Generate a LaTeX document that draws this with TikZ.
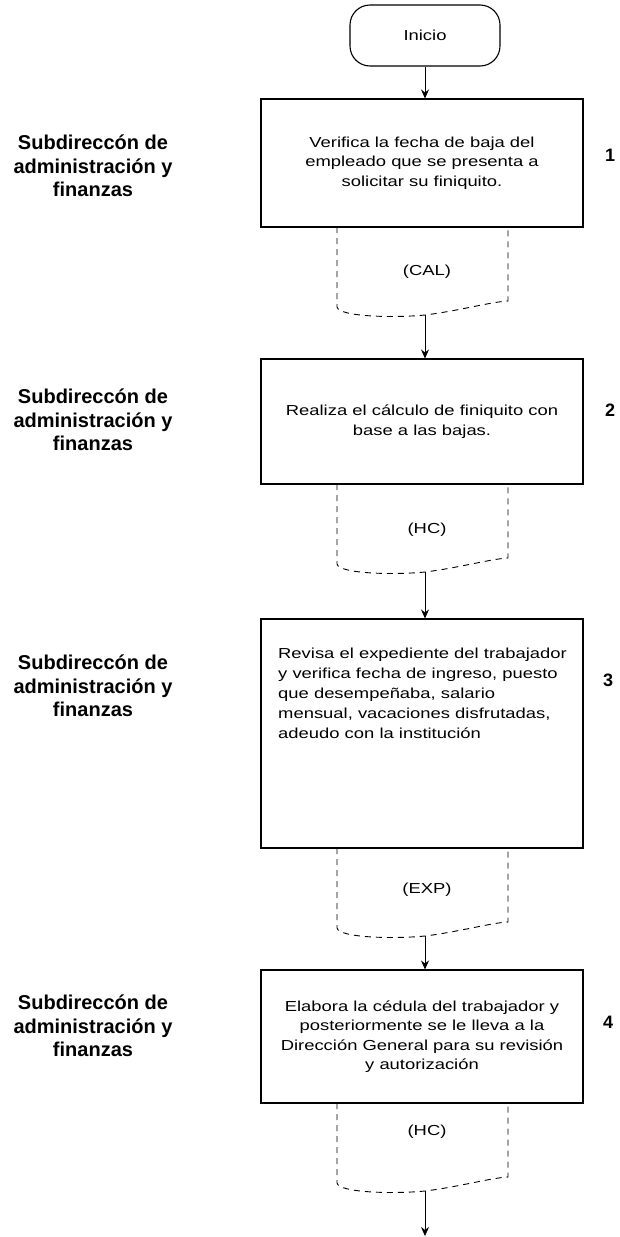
\documentclass[tikz,border=0pt]{standalone}
\usepackage{fontspec}
\setmainfont{Liberation Sans}
\newfontfamily\stepfont[FakeStretch=1.27]{Liberation Sans}
\usetikzlibrary{arrows.meta}

\begin{document}
\begin{tikzpicture}[x=1pt,y=-1pt,
  stepbox/.style={draw, line width=1.1pt, minimum width=322pt, inner sep=0pt},
  boxtext/.style={font=\stepfont\fontsize{14.5}{19.5}\selectfont, align=center},
  doclabel/.style={font=\stepfont\fontsize{14.5}{17}\selectfont},
  docline/.style={draw, line width=0.9pt, dash pattern=on 6pt off 5pt},
  lane/.style={font=\bfseries\fontsize{20}{23.5}\selectfont, align=center},
  num/.style={font=\bfseries\fontsize{18}{20}\selectfont},
  arr/.style={-{Stealth[length=9pt,width=8pt,inset=3pt]}, line width=0.8pt},
  startbox/.style={draw, line width=1.1pt, rounded corners=20pt, minimum width=150pt, minimum height=61pt},
]
\useasboundingbox (0,0) rectangle (619,1237);

% start terminal
\node[startbox, boxtext] (ini) at (425,35.5) {Inicio};

% process steps
\node[stepbox, minimum height=128pt, boxtext] (b1) at (422,163)
  {Verifica la fecha de baja del\\empleado que se presenta a\\solicitar su finiquito.};
\node[stepbox, minimum height=125pt, boxtext] (b2) at (422,421.5)
  {Realiza el cálculo de finiquito con\\base a las bajas.};
\node[stepbox, minimum height=229pt] (b3) at (422,733.5) {};
\node[anchor=north west, inner sep=0pt, align=left,
      font=\stepfont\fontsize{14.5}{20}\selectfont] (t3) at (278,648)
  {Revisa el expediente del trabajador\\y verifica fecha de ingreso, puesto\\que desempeñaba, salario\\mensual, vacaciones disfrutadas,\\adeudo con la institución};
\node[stepbox, minimum height=133pt, boxtext] (b4) at (422,1036.5)
  {Elabora la cédula del trabajador y\\posteriormente se le lleva a la\\Dirección General para su revisión\\y autorización};

% documents hanging under each step (top edge = step bottom)
\foreach \t/\n in {227/1, 484/2, 848/3, 1103/4}{
  \draw[docline] (337,\t) -- (337,\t+80)
     .. controls (339,\t+90) and (395,\t+91) .. (425,\t+88)
     .. controls (458,\t+84) and (490,\t+75) .. (508,\t+74) -- (508,\t);
  \coordinate (d\n) at (425,\t+88);
}
\node[doclabel] (c1) at (427,272) {(CAL)};
\node[doclabel] (c2) at (427,530) {(HC)};
\node[doclabel] (c3) at (427,890) {(EXP)};
\node[doclabel] (c4) at (427,1132) {(HC)};
\coordinate (end) at (425,1236);

% flow
\draw[arr] (ini) -- (ini |- b1.north);
\draw[arr] (d1) -- (d1 |- b2.north);
\draw[arr] (d2) -- (d2 |- b3.north);
\draw[arr] (d3) -- (d3 |- b4.north);
\draw[arr] (d4) -- (end);

% responsible area
\node[lane] (l1) at (93,166) {Subdireccón de\\administración y\\finanzas};
\node[lane] (l2) at (93,420) {Subdireccón de\\administración y\\finanzas};
\node[lane] (l3) at (93,686) {Subdireccón de\\administración y\\finanzas};
\node[lane] (l4) at (93,1026) {Subdireccón de\\administración y\\finanzas};

% step numbers
\node[num] (n1) at (610,155) {1};
\node[num] (n2) at (610,410) {2};
\node[num] (n3) at (608,680) {3};
\node[num] (n4) at (608,1022) {4};
\end{tikzpicture}
\end{document}
